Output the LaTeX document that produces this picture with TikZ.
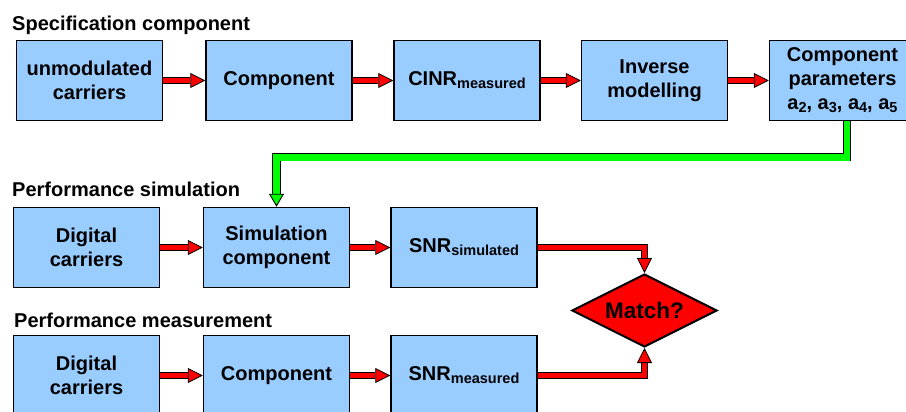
\documentclass[tikz,border=0pt]{standalone}
\usepackage{fontspec}
\setmainfont{Liberation Sans}
\usetikzlibrary{arrows.meta,shapes.geometric}
\definecolor{boxblue}{HTML}{99CCFF}
\definecolor{flowgreen}{HTML}{00FF00}
\newcommand{\lo}[1]{\raisebox{-0.3ex}{\fontsize{14.5}{14.5}\selectfont #1}}

\begin{document}
\begin{tikzpicture}[x=1pt,y=-1pt,every node/.style={font=\fontsize{20}{24}\selectfont\bfseries},
  blk/.style={draw,line width=1.5pt,fill=boxblue,minimum width=146pt,minimum height=80pt,align=center,inner sep=2pt},
  hdr/.style={anchor=base west,inner sep=0pt},
  redflow/.style={draw=black,double=red,double distance=5pt,line width=0.8pt,
    -{Triangle[length=15pt,width=15pt,fill=red,line width=0.8pt]}},
  greenflow/.style={draw=black,double=flowgreen,double distance=6.5pt,line width=0.9pt,
    -{Triangle[length=13pt,width=15pt,fill=flowgreen,line width=0.9pt]}}]
 \useasboundingbox (0,0) rectangle (906,412);
 \node[hdr] (spec) at (12,31) {Specification component};
 \node[hdr] (perfsim) at (12,196) {Performance simulation};
 \node[hdr] (perfmeas) at (14,327) {Performance measurement};
 \node[blk] (carr) at (89.5,80.5) {unmodulated\\carriers};
 \node[blk] (comp) at (279,80.5) {Component};
 \node[blk] (cinr) at (467,80.5) {CINR\lo{measured}};
 \node[blk] (inv) at (654.5,80.5) {Inverse\\modelling};
 \node[blk] (par) at (842.5,80.5) {Component\\parameters\\a\lo{2}, a\lo{3}, a\lo{4}, a\lo{5}};
 \node[blk] (dig) at (86.5,247.5) {Digital\\carriers};
 \node[blk] (simc) at (276.5,247.5) {Simulation\\component};
 \node[blk] (snrs) at (464,247.5) {SNR\lo{simulated}};
 \node[blk] (digm) at (86.5,375.5) {Digital\\carriers};
 \node[blk] (compm) at (276.5,375.5) {Component};
 \node[blk] (snrm) at (464,375.5) {SNR\lo{measured}};
 \node[diamond,draw,line width=2pt,fill=red,aspect=2,inner sep=0pt,minimum width=145pt,minimum height=73pt,
   font=\fontsize{22.5}{24}\selectfont\bfseries] (match) at (644.5,310.5) {Match?};
 \draw[redflow] (carr) -- (comp); \draw[redflow] (comp) -- (cinr);
 \draw[redflow] (cinr) -- (inv); \draw[redflow] (inv) -- (par);
 \draw[redflow] (dig) -- (simc); \draw[redflow] (simc) -- (snrs);
 \draw[redflow] (digm) -- (compm); \draw[redflow] (compm) -- (snrm);
 \draw[redflow] (snrs.east) -| (match.north);
 \draw[redflow] (snrm.east) -| (match.south);
 \draw[greenflow] ([xshift=4.5pt]par.south) -- ++(0,36) -| (simc.north);
\end{tikzpicture}
\end{document}
